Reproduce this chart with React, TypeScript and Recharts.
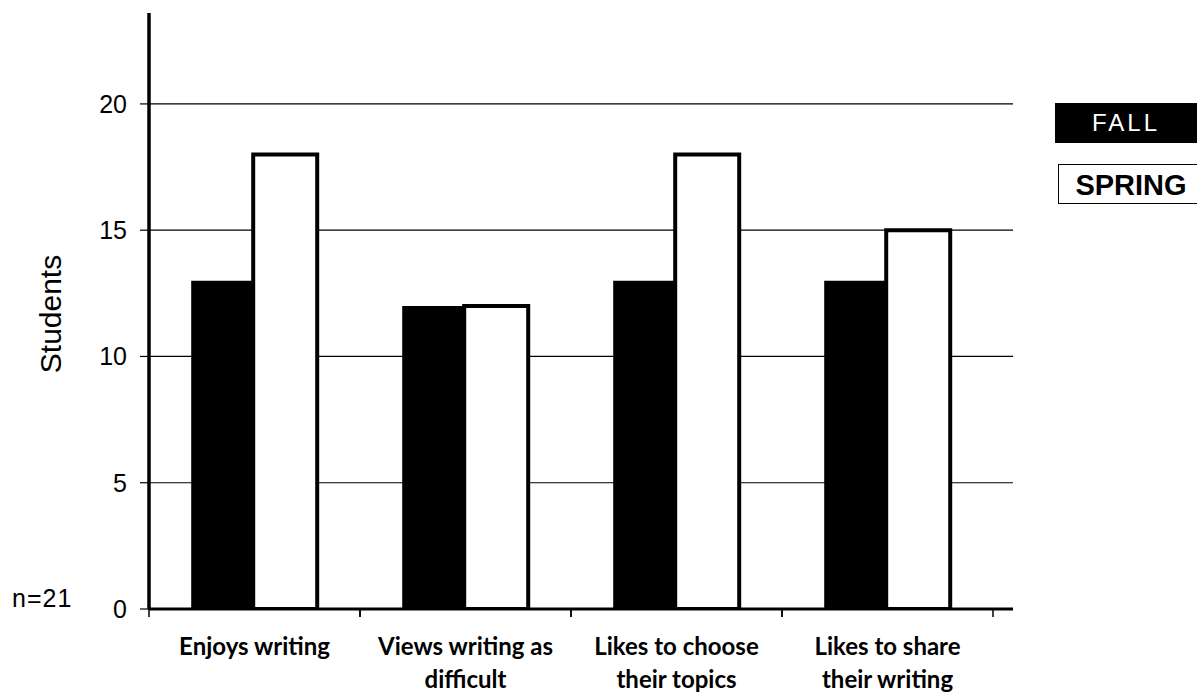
import { BarChart, Bar, XAxis, YAxis, CartesianGrid, Legend } from 'recharts';

const categories = ['Enjoys writing', 'Views writing as difficult', 'Likes to choose their topics', 'Likes to share their writing'];
const tickLines = [['Enjoys writing'], ['Views writing as', 'difficult'], ['Likes to choose', 'their topics'], ['Likes to share', 'their writing']];
const fall = [13, 12, 13, 13];
const spring = [18, 12, 18, 15];
const yTicks = [0, 5, 10, 15, 20];

const data = categories.map((c, i) => ({ name: c, FALL: fall[i], SPRING: spring[i] }));

const PAD_RIGHT = 20;

const CategoryTick = (props: any) => {
    const { x, y, payload, width, visibleTicksCount, index } = props;
    const half = width && visibleTicksCount ? (width - PAD_RIGHT) / visibleTicksCount / 2 : payload.offset;
    const lines = tickLines[index] || [payload.value];
    return (
        <g>
            <line x1={x - half} x2={x - half} y1={y} y2={y + 8} stroke="#000" strokeWidth={1.5} />
            <line x1={x + half} x2={x + half} y1={y} y2={y + 8} stroke="#000" strokeWidth={1.5} />
            <text x={x} y={y} textAnchor="middle" fill="#000" style={{ fontFamily: 'Lato', fontWeight: 700, fontSize: 24 }}>
                {lines.map((l: string, i: number) => (
                    <tspan key={i} x={x} y={y + 46 + i * 33}>{l}</tspan>
                ))}
            </text>
        </g>
    );
};

const LegendBoxes = (props: any) => {
    const { payload } = props;
    return (
        <div>
            {payload.map((entry: any, i: number) => (
                <div
                    key={entry.value}
                    style={{
                        width: i === 0 ? 142 : 146,
                        height: 40,
                        marginLeft: i === 0 ? 0 : 3,
                        marginBottom: 21,
                        boxSizing: 'border-box',
                        background: i === 0 ? '#000' : '#fff',
                        border: i === 0 ? 'none' : '1px solid #000',
                        color: i === 0 ? '#fff' : '#000',
                        fontFamily: '"Liberation Sans", Arial, sans-serif',
                        fontSize: i === 0 ? 24 : 29,
                        fontWeight: i === 0 ? 400 : 700,
                        letterSpacing: i === 0 ? 3 : 0,
                        lineHeight: '40px',
                        textAlign: 'center',
                    }}
                >
                    {entry.value}
                </div>
            ))}
        </div>
    );
};

export default function App() {
    return (
        <div style={{ position: 'absolute', left: 0, top: 0, width: 1197, height: 693, overflow: 'hidden', background: '#fff' }}>
            <BarChart
                width={1197}
                height={693}
                data={data}
                margin={{ top: 13, right: 184, left: 49, bottom: 24 }}
                barCategoryGap="20%"
                barGap={-2}
            >
                <CartesianGrid vertical={false} stroke="#000" strokeWidth={1.2} syncWithTicks />
                <XAxis
                    dataKey="name"
                    height={60}
                    padding={{ left: 0, right: PAD_RIGHT }}
                    axisLine={{ stroke: '#000', strokeWidth: 3 }}
                    tickLine={false}
                    tickSize={0}
                    tickMargin={0}
                    interval={0}
                    tick={<CategoryTick />}
                />
                <YAxis
                    width={100}
                    domain={[0, 23.6]}
                    ticks={yTicks}
                    allowDataOverflow
                    axisLine={{ stroke: '#000', strokeWidth: 3.5 }}
                    tickLine={{ stroke: '#000', strokeWidth: 1.2 }}
                    tickSize={9}
                    tickMargin={13}
                    tick={{ fill: '#000', fontSize: 25, fontFamily: '"Liberation Sans", Arial, sans-serif' }}
                />
                <Legend
                    layout="horizontal"
                    verticalAlign="middle"
                    align="center"
                    content={<LegendBoxes />}
                    wrapperStyle={{ position: 'absolute', left: 1055, top: 103, width: 150 }}
                />
                <Bar dataKey="FALL" name="FALL" fill="#000" isAnimationActive={false} />
                <Bar dataKey="SPRING" name="SPRING" fill="#fff" stroke="#000" strokeWidth={4} isAnimationActive={false} />
            </BarChart>
            <div
                style={{
                    position: 'absolute',
                    left: 51 - 100,
                    top: 314 - 20,
                    width: 200,
                    height: 40,
                    lineHeight: '40px',
                    textAlign: 'center',
                    transform: 'rotate(-90deg)',
                    fontFamily: '"Liberation Sans", Arial, sans-serif',
                    fontSize: 30,
                    color: '#000',
                }}
            >
                Students
            </div>
            <div
                style={{
                    position: 'absolute',
                    left: 12,
                    top: 586,
                    lineHeight: '25px',
                    fontFamily: '"Liberation Sans", Arial, sans-serif',
                    fontSize: 25,
                    letterSpacing: 1,
                    color: '#000',
                }}
            >
                n=21
            </div>
        </div>
    );
}
